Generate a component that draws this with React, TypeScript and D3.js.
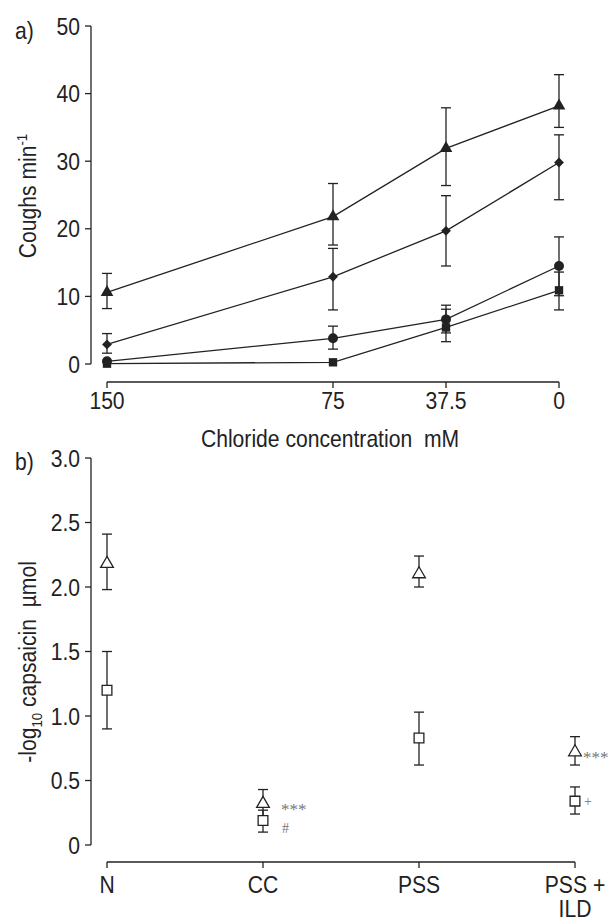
import React from 'react';
import * as d3 from 'd3';

// panel a: coughs per minute vs chloride concentration
const chloride = [150, 75, 37.5, 0];
const triMean = [10.6, 21.8, 31.9, 38.2];
const triLo = [8.2, 17.6, 26.4, 35.0];
const triHi = [13.4, 26.7, 37.9, 42.8];
const diaMean = [2.9, 12.9, 19.7, 29.8];
const diaLo = [1.6, 8.0, 14.5, 24.3];
const diaHi = [4.5, 17.1, 24.9, 33.9];
const cirMean = [0.4, 3.8, 6.6, 14.5];
const cirLo = [0.4, 2.2, 4.6, 10.1];
const cirHi = [0.4, 5.6, 8.7, 18.8];
const sqMean = [0.05, 0.25, 5.4, 10.9];
const sqLo = [0.05, 0.25, 3.3, 8.0];
const sqHi = [0.05, 0.25, 8.1, 13.6];
const aTicks = [0, 10, 20, 30, 40, 50];

// panel b: capsaicin threshold per group
const groups = ['N', 'CC', 'PSS', 'PSS +|ILD'];
const openTriMean = [2.18, 0.32, 2.1, 0.72];
const openTriLo = [1.98, 0.22, 2.0, 0.62];
const openTriHi = [2.41, 0.43, 2.24, 0.84];
const openSqMean = [1.2, 0.19, 0.83, 0.34];
const openSqLo = [0.9, 0.1, 0.62, 0.24];
const openSqHi = [1.5, 0.27, 1.03, 0.45];
const triMarks = ['', '***', '', '***'];
const sqMarks = ['', '#', '', '+'];
const bTicks = [0, 0.5, 1.0, 1.5, 2.0, 2.5, 3.0];

const INK = '#222';
const FONT = '"Liberation Sans", Arial, sans-serif';
const SX = 0.88; // narrow the sans font a little, like the original condensed type

function T({ x, y, anchor = 'start', rot = 0, children }: any) {
  return (
    <text
      transform={`translate(${x},${y}) rotate(${rot}) scale(${SX},1)`}
      textAnchor={anchor}
      xmlSpace="preserve"
    >
      {children}
    </text>
  );
}

function ErrBar({ x, y1, y2 }: { x: number; y1: number; y2: number }) {
  if (Math.abs(y1 - y2) < 1) return null;
  return (
    <g stroke={INK} strokeWidth={1.3}>
      <line x1={x} x2={x} y1={y1} y2={y2} />
      <line x1={x - 5} x2={x + 5} y1={y1} y2={y1} />
      <line x1={x - 5} x2={x + 5} y1={y2} y2={y2} />
    </g>
  );
}

export default function App() {
  // panel a scales
  const xa = d3.scaleLinear().domain([150, 0]).range([107, 559]);
  const ya = d3.scaleLinear().domain([0, 50]).range([364, 26]);
  // panel b scales
  const xb = d3.scalePoint().domain(groups).range([107, 575]);
  const yb = d3.scaleLinear().domain([0, 3]).range([845, 458]);

  const line = d3
    .line<number>()
    .x((d, i) => xa(chloride[i]))
    .y((d) => ya(d));

  const seriesA = [
    { mean: triMean, lo: triLo, hi: triHi, sym: d3.symbol(d3.symbolTriangle, 70)() },
    { mean: diaMean, lo: diaLo, hi: diaHi, sym: d3.symbol(d3.symbolDiamond2, 62)() },
    { mean: cirMean, lo: cirLo, hi: cirHi, sym: d3.symbol(d3.symbolCircle, 78)() },
    { mean: sqMean, lo: sqLo, hi: sqHi, sym: d3.symbol(d3.symbolSquare, 70)() },
  ];

  const openTri = d3.symbol(d3.symbolTriangle, 70)();
  const openSq = d3.symbol(d3.symbolSquare, 95)();

  return (
    <svg
      width={614}
      height={923}
      style={{ position: 'absolute', left: 0, top: 0, display: 'block', fontFamily: FONT }}
    >
      <g fill={INK} fontSize={24}>
        {/* ---- panel a ---- */}
        <T x={15} y={39}>a)</T>
        <line x1={91} x2={91} y1={ya(50)} y2={ya(0)} stroke={INK} strokeWidth={1.3} />
        {aTicks.map((t) => (
          <g key={t}>
            <line x1={85} x2={91} y1={ya(t)} y2={ya(t)} stroke={INK} strokeWidth={1.3} />
            <T x={80} y={ya(t) + 8.5} anchor="end">{t}</T>
          </g>
        ))}
        <line x1={xa(150)} x2={xa(0)} y1={382} y2={382} stroke={INK} strokeWidth={1.3} />
        {chloride.map((c) => (
          <g key={c}>
            <line x1={xa(c)} x2={xa(c)} y1={382} y2={388} stroke={INK} strokeWidth={1.3} />
            <T x={xa(c)} y={409} anchor="middle">{c}</T>
          </g>
        ))}
        <T x={330} y={447} anchor="middle">Chloride concentration  mM</T>
        <T x={36} y={196} anchor="middle" rot={-90}>
          Coughs min<tspan fontSize={15} dy={-9}>-1</tspan>
        </T>

        {seriesA.map((s, k) => (
          <g key={k}>
            <path d={line(s.mean) || ''} fill="none" stroke={INK} strokeWidth={1.3} />
            {s.mean.map((m, i) => (
              <ErrBar key={i} x={xa(chloride[i])} y1={ya(s.lo[i])} y2={ya(s.hi[i])} />
            ))}
            {s.mean.map((m, i) => (
              <path key={'m' + i} d={s.sym || ''} transform={`translate(${xa(chloride[i])},${ya(m)})`} fill={INK} />
            ))}
          </g>
        ))}

        {/* ---- panel b ---- */}
        <T x={15} y={470}>b)</T>
        <line x1={91} x2={91} y1={yb(3)} y2={yb(0)} stroke={INK} strokeWidth={1.3} />
        {bTicks.map((t) => (
          <g key={t}>
            <line x1={85} x2={91} y1={yb(t)} y2={yb(t)} stroke={INK} strokeWidth={1.3} />
            <T x={80} y={yb(t) + 8.5} anchor="end">{t === 0 ? '0' : t.toFixed(1)}</T>
          </g>
        ))}
        <line x1={xb('N')!} x2={xb('PSS +|ILD')!} y1={862} y2={862} stroke={INK} strokeWidth={1.3} />
        {groups.map((g) => (
          <g key={g}>
            <line x1={xb(g)!} x2={xb(g)!} y1={862} y2={868} stroke={INK} strokeWidth={1.3} />
            {g.split('|').map((part, j) => (
              <T key={j} x={xb(g)!} y={893 + j * 24} anchor="middle">{part}</T>
            ))}
          </g>
        ))}
        <T x={36} y={662} anchor="middle" rot={-90}>
          -log<tspan fontSize={15} dy={6}>10</tspan>
          <tspan dy={-6}> capsaicin  µmol</tspan>
        </T>

        {groups.map((g, i) => (
          <g key={g}>
            <ErrBar x={xb(g)!} y1={yb(openTriLo[i])} y2={yb(openTriHi[i])} />
            <ErrBar x={xb(g)!} y1={yb(openSqLo[i])} y2={yb(openSqHi[i])} />
            <path d={openTri || ''} transform={`translate(${xb(g)},${yb(openTriMean[i])})`} fill="#fff" stroke={INK} strokeWidth={1.3} />
            <path d={openSq || ''} transform={`translate(${xb(g)},${yb(openSqMean[i])})`} fill="#fff" stroke={INK} strokeWidth={1.3} />
            {triMarks[i] && (
              <text x={xb(g)! + (i === 3 ? 8 : 18)} y={yb(openTriMean[i]) + 11} fontSize={17} fill="#777" fontFamily='"Liberation Serif", serif'>
                {triMarks[i]}
              </text>
            )}
            {sqMarks[i] && (
              <text x={xb(g)! + (i === 3 ? 9 : 19)} y={yb(openSqMean[i]) + (i === 3 ? 5 : 13)} fontSize={14} fill="#777" fontFamily='"Liberation Serif", serif'>
                {sqMarks[i]}
              </text>
            )}
          </g>
        ))}
      </g>
    </svg>
  );
}
